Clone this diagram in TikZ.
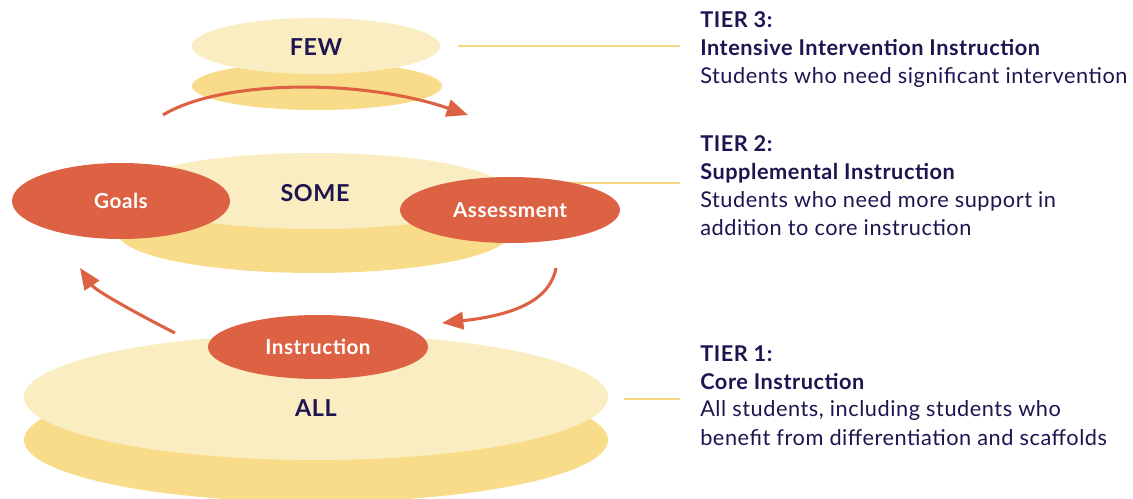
\documentclass[tikz,border=0pt]{standalone}
\usepackage{fontspec}
\setmainfont{Lato}[LetterSpace=2.5]
\usetikzlibrary{shapes.geometric,arrows.meta}
\definecolor{lightY}{HTML}{F9EDC1}
\definecolor{darkY}{HTML}{F9DC8A}
\definecolor{orng}{HTML}{DD6143}
\definecolor{navy}{HTML}{1E1550}
\definecolor{lineY}{HTML}{F8D880}
\tikzset{
  disc/.style={ellipse,inner sep=0pt,draw=none},
  lightdisc/.style={disc,fill=lightY},
  darkdisc/.style={disc,fill=darkY},
  cyc/.style={disc,fill=orng,text=white,font=\fontsize{15.5}{18}\selectfont\bfseries},
  lvl/.style={text=navy,font=\fontsize{17.5}{20}\selectfont\bfseries,inner sep=0pt},
  tierline/.style={draw=lineY,line width=1.5pt},
  cycarrow/.style={draw=orng,line width=2.3pt,-{Triangle[length=16pt,width=13pt]}},
  tier/.style={text=navy,align=left,anchor=base west,inner sep=0pt,font=\fontsize{16.3}{21}\selectfont}
}
\begin{document}
\begin{tikzpicture}[x=0.75pt,y=-0.75pt]
\useasboundingbox[fill=white] (0,0) rectangle (1133,499);
% FEW
\node[darkdisc,minimum width=187.5pt,minimum height=36pt] (fewB) at (317,86) {};
\node[lightdisc,minimum width=186pt,minimum height=42pt] (fewT) at (316,46) {};
\node[lvl] (fewL) at (316,47) {FEW};
\coordinate (t3a) at (458,46);
\coordinate (t3b) at (680,46);
\draw[tierline] (t3a) -- (t3b);
\coordinate (arA) at (163,115);
\coordinate (arB) at (468,115);
\draw[cycarrow] (arA) .. controls (220,80) and (360,78) .. (arB);
% SOME
\node[darkdisc,minimum width=294pt,minimum height=60pt] (someB) at (314,233) {};
\node[lightdisc,minimum width=286.5pt,minimum height=57pt] (someT) at (315,191) {};
\node[lvl] (someL) at (315,193) {SOME};
\coordinate (t2a) at (506,183);
\coordinate (t2b) at (680,183);
\draw[tierline] (t2a) -- (t2b);
\node[cyc,minimum width=163.5pt,minimum height=57pt] (goals) at (121,201) {Goals};
\node[cyc,minimum width=165pt,minimum height=49.5pt] (assess) at (510,210) {Assessment};
% ALL
\begin{scope}
\clip (0,0) rectangle (1133,499);
\node[darkdisc,minimum width=438pt,minimum height=93pt] (allB) at (316,440) {};
\end{scope}
\node[lightdisc,minimum width=438pt,minimum height=94.5pt] (allT) at (316,397) {};
\node[lvl] (allL) at (316,408) {ALL};
\node[cyc,minimum width=165pt,minimum height=48pt] (instr) at (318,347) {Instruction};
\coordinate (t1a) at (624,399);
\coordinate (t1b) at (680,399);
\draw[tierline] (t1a) -- (t1b);
% cycle arrows
\coordinate (lA) at (175,333);
\coordinate (lB) at (80,268);
\draw[cycarrow] (lA) .. controls (130,310) and (95,290) .. (lB);
\coordinate (rA) at (556,268);
\coordinate (rB) at (442,323);
\draw[cycarrow] (rA) .. controls (550,300) and (515,315) .. (rB);
% tier texts (anchor = baseline of last line)
\node[tier] (tier3) at (700,84) {\textbf{TIER 3:}\\\textbf{Intensive Intervention Instruction}\\Students who need significant intervention};
\node[tier] (tier2) at (700,236) {\textbf{TIER 2:}\\\textbf{Supplemental Instruction}\\Students who need more support in\\addition to core instruction};
\node[tier] (tier1) at (700,445) {\textbf{TIER 1:}\\\textbf{Core Instruction}\\All students, including students who\\benefit from differentiation and scaffolds};
\end{tikzpicture}
\end{document}
